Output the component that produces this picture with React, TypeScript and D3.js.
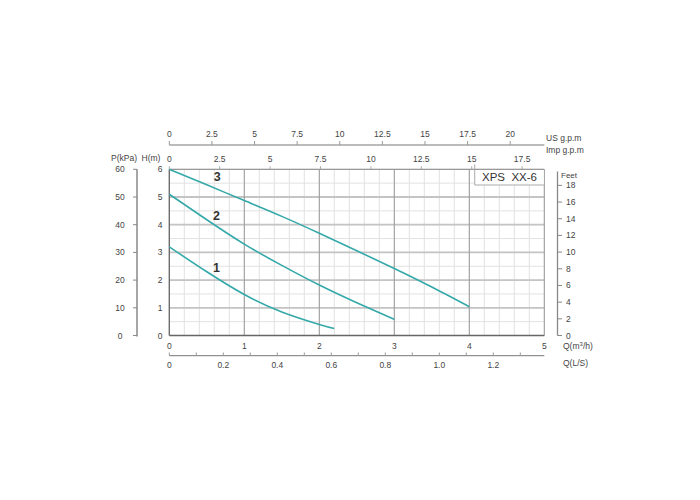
import React from "react";
import * as d3 from "d3";

// ---- data ----
const curveNames = ["1", "2", "3"];
const flow1 = [0, 0.5, 1, 1.5, 2, 2.2];
const head1 = [3.2, 2.3, 1.48, 0.85, 0.4, 0.25];
const flow2 = [0, 0.5, 1, 1.5, 2, 2.5, 3];
const head2 = [5.1, 4.18, 3.3, 2.53, 1.82, 1.18, 0.58];
const flow3 = [0, 0.5, 1, 1.5, 2, 2.5, 3, 3.5, 4];
const head3 = [6, 5.44, 4.87, 4.3, 3.69, 3.06, 2.42, 1.75, 1.04];
const labelPos = [[0.63, 2.45], [0.63, 4.35], [0.64, 5.75]];

const qTicks = [0, 1, 2, 3, 4, 5];
const hTicks = [0, 1, 2, 3, 4, 5, 6];
const pTicks = [0, 10, 20, 30, 40, 50, 60];
const ftTicks = [0, 2, 4, 6, 8, 10, 12, 14, 16, 18];
const usTicks = [0, 2.5, 5, 7.5, 10, 12.5, 15, 17.5, 20];
const impTicks = [0, 2.5, 5, 7.5, 10, 12.5, 15, 17.5];
const lsTicks = [0, 0.2, 0.4, 0.6, 0.8, 1.0, 1.2];
const lsMinor = [0.1, 0.3, 0.5, 0.7, 0.9, 1.1, 1.3];

const US_PER_M3H = 4.4;
const IMP_PER_M3H = 3.72;
const M3H_PER_LS = 3.6;
const title = "XPS\u00a0\u00a0XX-6";

const FONT = "'Liberation Sans', Arial, sans-serif";
const TXT = "#444";
const CURVE = "#35a9a9";

export default function App() {
  const x = d3.scaleLinear().domain([0, 5]).range([169.3, 544.3]);
  const y = d3.scaleLinear().domain([0, 6]).range([335.5, 169.3]);
  const us = d3.scaleLinear().domain([0, 20]).range([x(0), x(20 / US_PER_M3H)]);
  const imp = d3.scaleLinear().domain([0, 17.5]).range([x(0), x(17.5 / IMP_PER_M3H)]);
  const ls = d3.scaleLinear().domain([0, 1.2]).range([x(0), x(1.2 * M3H_PER_LS)]);
  const p = d3.scaleLinear().domain([0, 60]).range([y(0), y(6)]);
  const ft = d3.scaleLinear().domain([0, 18]).range([y(0), y(5.42)]);

  const minorQ = d3.range(0, 5.01, 0.2);
  const minorH = d3.range(0, 6.01, 0.5);
  const curves = [
    flow1.map((q, i) => [q, head1[i]]),
    flow2.map((q, i) => [q, head2[i]]),
    flow3.map((q, i) => [q, head3[i]]),
  ];
  const line = d3
    .line<number[]>()
    .x((d) => x(d[0]))
    .y((d) => y(d[1]))
    .curve(d3.curveNatural);

  const boxL = imp(15) + 3;
  const boxB = 185;

  return (
    <svg
      width={700}
      height={500}
      style={{ position: "absolute", left: 0, top: 0, background: "#fff" }}
      fontFamily={FONT}
    >
      {/* minor grid */}
      {minorQ.map((q, i) => (
        <line key={"mq" + i} x1={x(q)} x2={x(q)} y1={y(0)} y2={y(6)} stroke="#e2e2e2" strokeWidth={1} />
      ))}
      {minorH.map((h, i) => (
        <line key={"mh" + i} x1={x(0)} x2={x(5)} y1={y(h)} y2={y(h)} stroke="#e2e2e2" strokeWidth={1} />
      ))}
      {/* major grid */}
      {hTicks.slice(1, 6).map((h) => (
        <line key={"Mh" + h} x1={x(0)} x2={x(5)} y1={y(h)} y2={y(h)} stroke="#c4c4c4" strokeWidth={1.8} />
      ))}
      {qTicks.slice(1, 5).map((q) => (
        <line key={"Mq" + q} x1={x(q)} x2={x(q)} y1={y(0)} y2={y(6)} stroke="#9a9a9a" strokeWidth={1} />
      ))}
      {/* border */}
      <line x1={x(0)} x2={x(5)} y1={y(6)} y2={y(6)} stroke="#999" strokeWidth={1.2} />
      <line x1={x(5)} x2={x(5)} y1={y(6)} y2={y(0)} stroke="#999" strokeWidth={1} />
      <line x1={x(0)} x2={x(0)} y1={y(6)} y2={y(0)} stroke="#666" strokeWidth={1.3} />
      <line x1={x(0)} x2={x(5)} y1={y(0)} y2={y(0)} stroke="#666" strokeWidth={1.3} />

      {/* title box */}
      <rect x={boxL} y={y(6) + 0.8} width={x(5) - boxL - 0.5} height={boxB - y(6) - 0.8} fill="#fff" />
      <line x1={boxL} x2={boxL} y1={y(6) - 5} y2={boxB} stroke="#aaa" strokeWidth={1} />
      <line x1={boxL} x2={x(5)} y1={boxB} y2={boxB} stroke="#aaa" strokeWidth={1} />
      <text x={(boxL + x(5)) / 2} y={181} textAnchor="middle" fontSize={11.5} fill="#333">
        {title}
      </text>

      {/* curves */}
      {curves.map((c, i) => (
        <path key={"c" + i} d={line(c) || ""} fill="none" stroke={CURVE} strokeWidth={1.6} />
      ))}
      {curveNames.map((n, i) => (
        <text key={"n" + i} x={x(labelPos[i][0])} y={y(labelPos[i][1]) + 4.5} textAnchor="middle" fontSize={12.5} fontWeight="bold" fill="#333">
          {n}
        </text>
      ))}

      {/* top US gpm axis */}
      <line x1={x(0)} x2={x(5)} y1={145} y2={145} stroke="#777" strokeWidth={1} />
      {usTicks.map((t) => (
        <g key={"us" + t}>
          <line x1={us(t)} x2={us(t)} y1={145} y2={141} stroke="#999" />
          <text x={us(t)} y={137} textAnchor="middle" fontSize={8.5} fill={TXT}>{t}</text>
        </g>
      ))}
      <text x={546} y={141} fontSize={8.5} fill={TXT}>{"US\u00a0g.p.m"}</text>
      <text x={546} y={152.5} fontSize={8.5} fill={TXT}>{"Imp\u00a0g.p.m"}</text>

      {/* Imp gpm */}
      {impTicks.map((t) => (
        <g key={"imp" + t}>
          <line x1={imp(t)} x2={imp(t)} y1={y(6)} y2={y(6) - 3} stroke="#aaa" />
          <text x={imp(t)} y={162} textAnchor="middle" fontSize={8.5} fill={TXT}>{t}</text>
        </g>
      ))}

      {/* left axes */}
      <text x={124} y={161} textAnchor="middle" fontSize={8.5} fill={TXT}>P(kPa)</text>
      <text x={151} y={161} textAnchor="middle" fontSize={8.5} fill={TXT}>H(m)</text>
      <line x1={137} x2={137} y1={p(60)} y2={p(0) + 1} stroke="#888" strokeWidth={1.5} />
      {pTicks.map((t) => (
        <g key={"p" + t}>
          <line x1={133} x2={137} y1={p(t)} y2={p(t)} stroke="#888" />
          <text x={120} y={p(t) + 3} textAnchor="middle" fontSize={8.5} fill={TXT}>{t}</text>
        </g>
      ))}
      {hTicks.map((t) => (
        <text key={"h" + t} x={160} y={y(t) + 3} textAnchor="middle" fontSize={8.5} fill={TXT}>{t}</text>
      ))}

      {/* right feet axis */}
      <line x1={557.5} x2={557.5} y1={171.5} y2={ft(0)} stroke="#888" strokeWidth={1.3} />
      <text x={561} y={178} fontSize={8} fill={TXT}>Feet</text>
      {ftTicks.map((t) => (
        <g key={"ft" + t}>
          <line x1={557.5} x2={562} y1={ft(t)} y2={ft(t)} stroke="#888" />
          <text x={566} y={ft(t) + 3} fontSize={8.5} fill={TXT}>{t}</text>
        </g>
      ))}

      {/* bottom Q m3/h */}
      {qTicks.map((t) => (
        <text key={"q" + t} x={x(t)} y={349} textAnchor="middle" fontSize={8.5} fill={TXT}>{t}</text>
      ))}
      <text x={563} y={349} fontSize={8.5} fill={TXT}>
        Q(m<tspan fontSize={6} dy={-3}>3</tspan><tspan dy={3}>/h)</tspan>
      </text>

      {/* L/S axis */}
      <line x1={x(0)} x2={x(5)} y1={355.7} y2={355.7} stroke="#777" strokeWidth={1} />
      {lsMinor.map((t) => (
        <line key={"lsm" + t} x1={ls(t)} x2={ls(t)} y1={355.7} y2={352.5} stroke="#999" />
      ))}
      {lsTicks.map((t) => (
        <g key={"ls" + t}>
          <line x1={ls(t)} x2={ls(t)} y1={355.7} y2={352.5} stroke="#999" />
          <text x={ls(t)} y={367.5} textAnchor="middle" fontSize={8.5} fill={TXT}>
            {t === 0 ? "0" : t.toFixed(1)}
          </text>
        </g>
      ))}
      <text x={563} y={366} fontSize={8.5} fill={TXT}>Q(L/S)</text>
    </svg>
  );
}
